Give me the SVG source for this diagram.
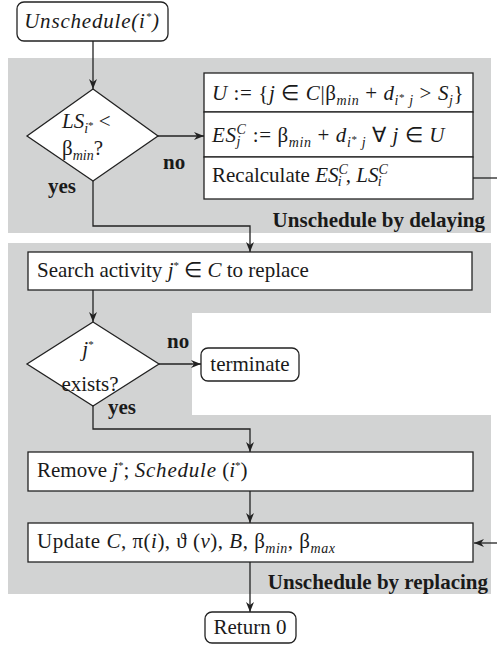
<svg xmlns="http://www.w3.org/2000/svg" width="497" height="647" viewBox="0 0 497 647">
<style>
text{font-family:"Liberation Serif","Times New Roman",serif;font-size:21px;fill:#1a1a1a}
.i{font-style:italic}
.s{font-size:14px}
.ss{font-size:11px}
.b{font-weight:bold}
.m{letter-spacing:0.6px}
.box{fill:#fff;stroke:#222;stroke-width:1.3}
.gray{fill:#d2d3d3}
.c{fill:none;stroke:#222;stroke-width:1.3}
</style>
<defs>
<marker id="ah" viewBox="0 0 10 8" refX="10" refY="4" markerWidth="10" markerHeight="8" markerUnits="userSpaceOnUse" orient="auto">
<path d="M0,0 L10,4 L0,8 L3,4 Z" fill="#222"/>
</marker>
</defs>
<g id="regions">
<rect class="gray" x="8" y="58" width="483" height="175"/>
<path class="gray" d="M8,243 H491 V313 H192 V415 H491 V594 H8 Z"/>
<text class="b" x="485" y="227" text-anchor="end">Unschedule by delaying</text>
<text class="b" x="488" y="589" text-anchor="end">Unschedule by replacing</text>
</g>
<g id="connectors">
<path class="c" d="M93,41 V89" marker-end="url(#ah)"/>
<path class="c" d="M158,136 H204" marker-end="url(#ah)"/>
<path class="c" d="M93,181 V226 H250 V252" marker-end="url(#ah)"/>
<path class="c" d="M473,178 H497"/>
<path class="c" d="M497,543 H474" marker-end="url(#ah)"/>
<path class="c" d="M93,290 V322" marker-end="url(#ah)"/>
<path class="c" d="M159,364 H201" marker-end="url(#ah)"/>
<path class="c" d="M93,406 V429 H250 V452" marker-end="url(#ah)"/>
<path class="c" d="M250,491 V523" marker-end="url(#ah)"/>
<path class="c" d="M250,562 V612" marker-end="url(#ah)"/>
<text class="b" x="163" y="169">no</text>
<text class="b" x="48" y="193">yes</text>
<text class="b" x="167" y="348">no</text>
<text class="b" x="108" y="414">yes</text>
</g>
<g id="start">
<rect class="box" x="17" y="2" width="151" height="39" rx="7"/>
<text class="i" x="92" y="28" text-anchor="middle" letter-spacing="0.8">Unschedule(i<tspan class="ss" dy="-8">*</tspan><tspan dy="8">)</tspan></text>
</g>
<g id="decision1">
<path class="box" d="M93,89 L158,136 L93,181 L27,136 Z"/>
<text x="62" y="128"><tspan class="i">LS</tspan><tspan class="s i" dy="5">i</tspan><tspan class="ss" dy="-4">*</tspan><tspan dy="-1"> &lt;</tspan></text>
<text x="62" y="155">β<tspan class="s i" dy="5">min</tspan><tspan dy="-5">?</tspan></text>
</g>
<g id="delaying-steps">
<rect class="box" x="204" y="73" width="269" height="39"/>
<rect class="box" x="204" y="112" width="269" height="45"/>
<rect class="box" x="204" y="157" width="269" height="42"/>
<text class="m" x="212" y="100"><tspan class="i">U</tspan> := {<tspan class="i">j</tspan> ∈ <tspan class="i">C</tspan>|β<tspan class="s i" dy="5">min</tspan><tspan dy="-5"> + </tspan><tspan class="i">d</tspan><tspan class="s i" dy="5">i</tspan><tspan class="ss" dy="-4">*</tspan><tspan class="s i" dy="4"> j</tspan><tspan dy="-5"> &gt; </tspan><tspan class="i">S</tspan><tspan class="s i" dy="5">j</tspan><tspan dy="-5">}</tspan></text>
<text class="m" x="212" y="142"><tspan class="i">ES</tspan><tspan class="s i" dy="-8">C</tspan><tspan class="s i" dx="-10" dy="12">j</tspan><tspan dy="-4" dx="6"> := β</tspan><tspan class="s i" dy="5">min</tspan><tspan dy="-5"> + </tspan><tspan class="i">d</tspan><tspan class="s i" dy="5">i</tspan><tspan class="ss" dy="-4">*</tspan><tspan class="s i" dy="4"> j</tspan><tspan dy="-5"> ∀ </tspan><tspan class="i">j</tspan> ∈ <tspan class="i">U</tspan></text>
<text x="212" y="182">Recalculate <tspan class="i">ES</tspan><tspan class="s i" dy="-8">C</tspan><tspan class="s i" dx="-10" dy="12">i</tspan><tspan dy="-4" dx="4">, </tspan><tspan class="i">LS</tspan><tspan class="s i" dy="-8">C</tspan><tspan class="s i" dx="-10" dy="12">i</tspan></text>
</g>
<g id="search">
<rect class="box" x="28" y="252" width="444" height="38"/>
<text x="37" y="277">Search activity <tspan class="i">j</tspan><tspan class="ss" dy="-8">*</tspan><tspan dy="8"> ∈ </tspan><tspan class="i">C</tspan> to replace</text>
</g>
<g id="decision2">
<path class="box" d="M93,322 L159,364 L93,406 L27,364 Z"/>
<text x="88" y="356" text-anchor="middle"><tspan class="i">j</tspan><tspan class="ss" dy="-8">*</tspan></text>
<text x="90" y="391" text-anchor="middle">exists?</text>
</g>
<g id="terminate">
<rect class="box" x="201" y="348" width="98" height="33" rx="7"/>
<text x="250" y="371" text-anchor="middle">terminate</text>
</g>
<g id="remove">
<rect class="box" x="28" y="452" width="445" height="39"/>
<text x="37" y="477">Remove <tspan class="i">j</tspan><tspan class="ss" dy="-8">*</tspan><tspan dy="8">; </tspan><tspan class="i" letter-spacing="0.8">Schedule</tspan> (<tspan class="i">i</tspan><tspan class="ss" dy="-8">*</tspan><tspan dy="8">)</tspan></text>
</g>
<g id="update">
<rect class="box" x="28" y="523" width="445" height="39"/>
<text x="37" y="548" letter-spacing="0.5">Update <tspan class="i">C</tspan>, π(<tspan class="i">i</tspan>), ϑ (<tspan class="i">ν</tspan>), <tspan class="i">B</tspan>, β<tspan class="s i" dy="5">min</tspan><tspan dy="-5">, β</tspan><tspan class="s i" dy="5">max</tspan></text>
</g>
<g id="return">
<rect class="box" x="205" y="612" width="91" height="31" rx="7"/>
<text x="250" y="634" text-anchor="middle">Return 0</text>
</g>
</svg>
